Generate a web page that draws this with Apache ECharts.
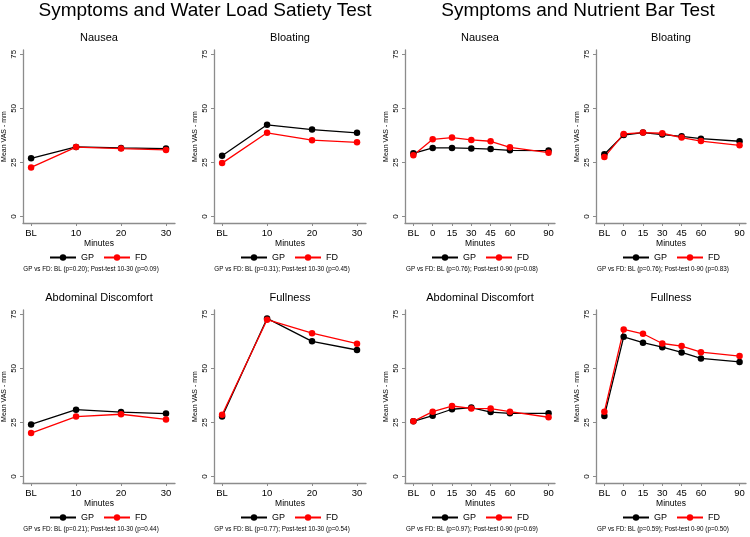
<!DOCTYPE html>
<html><head><meta charset="utf-8">
<script src="https://cdn.jsdelivr.net/npm/echarts@6/dist/echarts.min.js"></script>
<style>html,body{margin:0;padding:0;background:#fff}#c{width:750px;height:537px}</style>
</head><body><div id="c"></div>
<script>
// ---- data ----
const groupTitles = ['Symptoms and Water Load Satiety Test', 'Symptoms and Nutrient Bar Test'];
const panelTitles = ['Nausea', 'Bloating', 'Abdominal Discomfort', 'Fullness'];
const seriesNames = ['GP', 'FD'];
const yTicks = [0, 25, 50, 75];
const wlTickLabels = ['BL', '10', '20', '30'];
const wlMinutes = [0, 10, 20, 30];            // BL plotted one step before 10
const nbTickLabels = ['BL', '0', '15', '30', '45', '60', '90'];
const nbMinutes = [-15, 0, 15, 30, 45, 60, 90]; // BL plotted one step before 0

const wlNauseaGP   = [26.9, 32.2, 31.7, 31.4];
const wlNauseaFD   = [22.7, 32.1, 31.4, 30.8];
const wlBloatingGP = [28.1, 42.4, 40.2, 38.7];
const wlBloatingFD = [24.7, 38.7, 35.3, 34.3];
const wlAbdGP      = [24.1, 30.9, 29.8, 29.1];
const wlAbdFD      = [20.1, 27.7, 28.8, 26.4];
const wlFullGP     = [27.7, 73.1, 62.5, 58.5];
const wlFullFD     = [28.6, 72.5, 66.3, 61.4];

const nbNauseaGP   = [29.2, 31.7, 31.7, 31.5, 31.2, 30.6, 30.5];
const nbNauseaFD   = [28.3, 35.7, 36.5, 35.4, 34.8, 32.0, 29.5];
const nbBloatingGP = [28.8, 37.7, 38.8, 37.9, 37.1, 36.0, 34.8];
const nbBloatingFD = [27.5, 38.2, 38.8, 38.5, 36.5, 34.9, 32.9];
const nbAbdGP      = [25.5, 28.1, 31.1, 31.9, 29.8, 29.2, 29.2];
const nbAbdFD      = [25.5, 30.0, 32.6, 31.5, 31.4, 30.0, 27.4];
const nbFullGP     = [28.0, 64.6, 61.9, 59.8, 57.4, 54.6, 53.0];
const nbFullFD     = [30.0, 68.0, 66.0, 61.5, 60.3, 57.5, 55.7];

const footnotes = [
  'GP vs FD: BL (p=0.20); Post-test 10-30 (p=0.09)',
  'GP vs FD: BL (p=0.31); Post-test 10-30 (p=0.45)',
  'GP vs FD: BL (p=0.76); Post-test 0-90 (p=0.08)',
  'GP vs FD: BL (p=0.76); Post-test 0-90 (p=0.83)',
  'GP vs FD: BL (p=0.21); Post-test 10-30 (p=0.44)',
  'GP vs FD: BL (p=0.77); Post-test 10-30 (p=0.54)',
  'GP vs FD: BL (p=0.97); Post-test 0-90 (p=0.69)',
  'GP vs FD: BL (p=0.59); Post-test 0-90 (p=0.50)'
];

// ---- layout ----
const FONT = 'Liberation Sans, Arial, Helvetica, sans-serif';
const AXIS_COLOR = '#8c8c8c';
const colors = ['#000000', '#ff0000'];
const panels = [
  {title: panelTitles[0], group: 'wl', gp: wlNauseaGP,   fd: wlNauseaFD,   left: 23,  row: 0},
  {title: panelTitles[1], group: 'wl', gp: wlBloatingGP, fd: wlBloatingFD, left: 214, row: 0},
  {title: panelTitles[0], group: 'nb', gp: nbNauseaGP,   fd: nbNauseaFD,   left: 405, row: 0},
  {title: panelTitles[1], group: 'nb', gp: nbBloatingGP, fd: nbBloatingFD, left: 596, row: 0},
  {title: panelTitles[2], group: 'wl', gp: wlAbdGP,      fd: wlAbdFD,      left: 23,  row: 1},
  {title: panelTitles[3], group: 'wl', gp: wlFullGP,     fd: wlFullFD,     left: 214, row: 1},
  {title: panelTitles[2], group: 'nb', gp: nbAbdGP,      fd: nbAbdFD,      left: 405, row: 1},
  {title: panelTitles[3], group: 'nb', gp: nbFullGP,     fd: nbFullFD,     left: 596, row: 1}
];
const rowTop = [50, 310];
const gridH = 173;

const grid = [], xAxis = [], yAxis = [], series = [], legend = [];
const title = [
  {text: groupTitles[0], left: 205, top: 1, textAlign: 'center', padding: 0,
   textStyle: {fontSize: 19, fontWeight: 'normal', color: '#000', fontFamily: FONT}},
  {text: groupTitles[1], left: 578, top: 1, textAlign: 'center', padding: 0,
   textStyle: {fontSize: 19, fontWeight: 'normal', color: '#000', fontFamily: FONT}}
];

panels.forEach((p, i) => {
  const isWL = p.group === 'wl';
  const w = isWL ? 152 : 150;
  const top = rowTop[p.row];
  const minutes = isWL ? wlMinutes : nbMinutes;
  const labels = isWL ? wlTickLabels : nbTickLabels;
  grid.push({left: p.left, top: top, width: w, height: gridH, containLabel: false});
  xAxis.push({
    type: 'value', gridIndex: i,
    min: isWL ? -1.8 : -21.5, max: isWL ? 32 : 95,
    name: 'Minutes', nameLocation: 'middle', nameGap: 15,
    nameTextStyle: {fontSize: 8.5, color: '#000', fontFamily: FONT},
    axisLine: {show: true, onZero: false, lineStyle: {color: AXIS_COLOR, width: 1.3}},
    axisTick: {show: true, length: 3, customValues: minutes, lineStyle: {color: AXIS_COLOR}},
    axisLabel: {customValues: minutes, margin: 5, fontSize: 9.5, color: '#000', fontFamily: FONT,
      formatter: v => labels[minutes.indexOf(v)]},
    splitLine: {show: false}
  });
  yAxis.push({
    type: 'value', gridIndex: i, min: -3, max: 77,
    name: 'Mean VAS - mm', nameLocation: 'middle', nameGap: 15,
    nameTextStyle: {fontSize: 7, color: '#000', fontFamily: FONT},
    axisLine: {show: true, onZero: false, lineStyle: {color: AXIS_COLOR, width: 1.3}},
    axisTick: {show: true, length: 3, customValues: yTicks, lineStyle: {color: AXIS_COLOR}},
    axisLabel: {customValues: yTicks, rotate: 90, margin: 5, fontSize: 8, color: '#000', fontFamily: FONT},
    splitLine: {show: false}
  });
  [p.gp, p.fd].forEach((vals, k) => {
    series.push({
      type: 'line', name: seriesNames[k], xAxisIndex: i, yAxisIndex: i,
      data: vals.map((v, j) => [minutes[j], v]),
      symbol: 'circle', symbolSize: 6.5, color: colors[k],
      lineStyle: {width: 1.3, color: colors[k]}, itemStyle: {color: colors[k]},
      silent: true, animation: false
    });
  });
  legend.push({
    data: seriesNames, left: p.left + 26, top: top + gridH + 30,
    itemWidth: 26, itemHeight: 8, itemGap: 9, padding: 0,
    textStyle: {fontSize: 9, color: '#000', fontFamily: FONT}
  });
  title.push({text: p.title, left: p.left + w / 2, top: top - 18, textAlign: 'center', padding: 0,
    textStyle: {fontSize: 11, fontWeight: 'normal', color: '#000', fontFamily: FONT}});
  title.push({text: footnotes[i], left: p.left + w / 2 - 8, top: top + gridH + 43.5, textAlign: 'center', padding: 0,
    textStyle: {fontSize: 6.3, fontWeight: 'normal', color: '#000', fontFamily: FONT}});
});

const chart = echarts.init(document.getElementById('c'), null, {renderer: 'canvas'});
chart.setOption({backgroundColor: '#fff', animation: false, title, grid, xAxis, yAxis, series, legend});
</script></body></html>
